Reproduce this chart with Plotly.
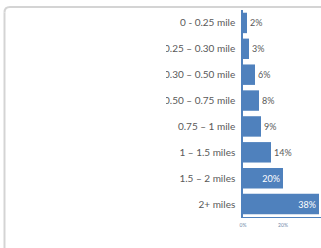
import plotly.graph_objects as go

categories = ["0 - 0.25 mile", "0.25 – 0.30 mile", "0.30 – 0.50 mile", "0.50 – 0.75 mile",
              "0.75 – 1 mile", "1 – 1.5 miles", "1.5 – 2 miles", "2+ miles"]
values = [2, 3, 6, 8, 9, 14, 20, 38]
labels = [f"{v}%" for v in values]
text_positions = ["outside"] * 6 + ["inside"] * 2
x_ticks = [0, 20]
x_tick_labels = ["0%", "20%"]

W, H = 321, 248
L, R, T, B = 243, 0, 9.5, 30.5
pw, ph = W - L - R, H - T - B

def px(x):
    return (x - L) / pw

def py(y):
    return (H - B - y) / ph

fig = go.Figure(go.Bar(
    x=values, y=categories, orientation="h",
    marker=dict(color="#4f81bd", line=dict(width=0)),
    text=labels, textposition=text_positions, insidetextanchor="end",
    textfont=dict(size=9, family="Lato"),
    outsidetextfont=dict(color="#595959", size=9, family="Lato"),
    insidetextfont=dict(color="white", size=9, family="Lato"),
    cliponaxis=False,
    hoverinfo="skip",
))

border_color = "#d4d4d4"
corner_path = (f"M {px(4.5)},{py(12)} Q {px(4.5)},{py(6.5)} {px(10)},{py(6.5)}")

fig.update_layout(
    width=W, height=H,
    margin=dict(l=L, r=R, t=T, b=B, pad=0),
    paper_bgcolor="white", plot_bgcolor="white",
    showlegend=False, bargap=0.21,
    font=dict(family="Lato", color="#595959", size=10),
    xaxis=dict(range=[0, 39], showgrid=False, zeroline=False, showline=True,
               linecolor="#4f81bd", linewidth=1, tickvals=x_ticks, ticktext=x_tick_labels,
               ticks="", ticklabelstandoff=3,
               tickfont=dict(size=5, family="Lato", color="#7088a8")),
    yaxis=dict(autorange="reversed", showgrid=False, zeroline=False, showline=True,
               linecolor="#4f81bd", linewidth=1.5, ticks="", ticklabelstandoff=4,
               tickfont=dict(size=10, family="Lato", color="#595959")),
    shapes=[
        dict(type="rect", xref="paper", yref="paper", x0=px(120), x1=px(166),
             y0=py(115), y1=py(35), fillcolor="white", line=dict(width=0), layer="above"),
        dict(type="line", xref="paper", yref="paper", x0=px(4.5), x1=px(4.5),
             y0=py(260), y1=py(12), line=dict(color=border_color, width=2), layer="above"),
        dict(type="line", xref="paper", yref="paper", x0=px(10), x1=px(330),
             y0=py(6.5), y1=py(6.5), line=dict(color=border_color, width=2), layer="above"),
        dict(type="path", xref="paper", yref="paper", path=corner_path,
             line=dict(color=border_color, width=2), layer="above"),
    ],
)

fig.write_html("out.html", config={"displayModeBar": False},
               post_script="document.body.style.margin='0';")
